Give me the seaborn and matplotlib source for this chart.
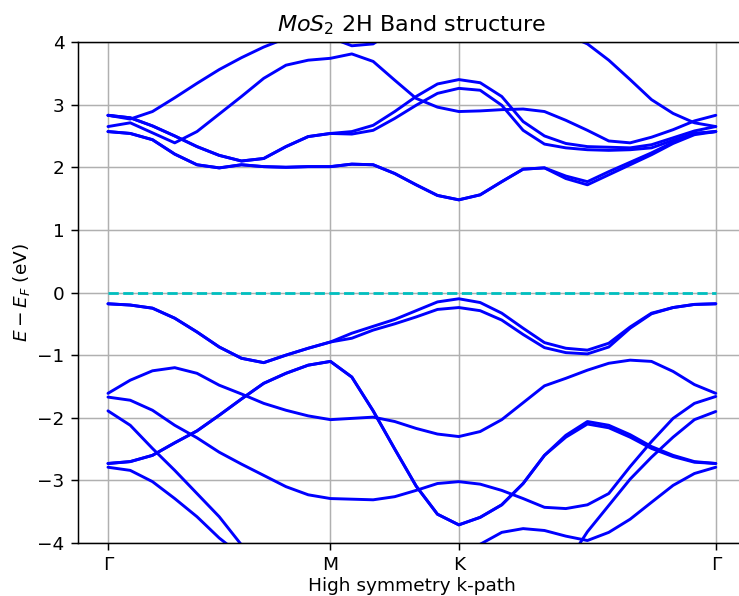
import numpy as np
import pandas as pd
import matplotlib
matplotlib.use("Agg")
import matplotlib.pyplot as plt
import seaborn as sns

# k-path sample positions along Gamma - M - K - Gamma
k_path = [0.0, 0.1, 0.2, 0.3, 0.4, 0.5, 0.6, 0.7, 0.8, 0.9, 1.0,
          1.096, 1.192, 1.289, 1.385, 1.481, 1.577,
          1.673, 1.770, 1.866, 1.962, 2.058, 2.155, 2.251, 2.347, 2.443, 2.540, 2.636, 2.732]
tick_pos = [0.0, 1.0, 1.577, 2.732]
tick_labels = ["Γ", "M", "K", "Γ"]

# conduction bands (eV, relative to E_F)
cb_d_lo = [2.57, 2.54, 2.44, 2.21, 2.04, 1.99, 2.04, 2.01, 2.00, 2.01, 2.01,
           2.05, 2.04, 1.90, 1.72, 1.55, 1.48,
           1.56, 1.77, 1.97, 1.99, 1.82, 1.72, 1.88, 2.04, 2.20, 2.38, 2.52, 2.57]
cb_d_hi = [2.57, 2.54, 2.44, 2.21, 2.04, 1.99, 2.04, 2.01, 2.00, 2.01, 2.01,
           2.05, 2.04, 1.90, 1.72, 1.55, 1.48,
           1.56, 1.77, 1.97, 1.99, 1.86, 1.77, 1.93, 2.08, 2.23, 2.40, 2.54, 2.57]
cb_a = [2.83, 2.77, 2.89, 3.11, 3.34, 3.56, 3.75, 3.92, 4.06, 4.12, 4.07,
        3.94, 3.97, 4.20, 4.40, 4.50, 4.50,
        4.50, 4.50, 4.50, 4.50, 4.50, 4.50, 4.50, 4.50, 4.50, 4.50, 4.50, 4.50]
cb_b = [2.65, 2.71, 2.55, 2.39, 2.57, 2.85, 3.13, 3.42, 3.63, 3.71, 3.74,
        3.81, 3.69, 3.39, 3.10, 2.96, 2.89,
        2.90, 2.92, 2.93, 2.89, 2.75, 2.59, 2.42, 2.39, 2.48, 2.60, 2.74, 2.83]
cb_c_lo = [2.83, 2.79, 2.66, 2.50, 2.33, 2.19, 2.10, 2.14, 2.33, 2.49, 2.54,
           2.53, 2.59, 2.78, 2.99, 3.18, 3.26,
           3.23, 2.99, 2.59, 2.37, 2.31, 2.28, 2.27, 2.28, 2.31, 2.43, 2.54, 2.57]
cb_c_hi = [2.83, 2.79, 2.66, 2.50, 2.33, 2.19, 2.10, 2.14, 2.33, 2.49, 2.54,
           2.57, 2.67, 2.89, 3.13, 3.33, 3.40,
           3.35, 3.13, 2.73, 2.50, 2.38, 2.33, 2.32, 2.31, 2.36, 2.47, 2.58, 2.65]
cb_t = [4.50, 4.50, 4.50, 4.50, 4.50, 4.50, 4.50, 4.50, 4.50, 4.50, 4.50,
        4.50, 4.50, 4.50, 4.50, 4.50, 4.50,
        4.50, 4.50, 4.50, 4.40, 4.12, 3.97, 3.71, 3.40, 3.08, 2.86, 2.71, 2.65]

# valence bands
vb1_hi = [-0.18, -0.20, -0.25, -0.41, -0.63, -0.87, -1.05, -1.12, -1.00, -0.89, -0.79,
          -0.65, -0.54, -0.43, -0.29, -0.15, -0.10,
          -0.16, -0.33, -0.57, -0.80, -0.89, -0.92, -0.81, -0.55, -0.33, -0.24, -0.19, -0.18]
vb1_lo = [-0.18, -0.20, -0.25, -0.41, -0.63, -0.87, -1.05, -1.12, -1.00, -0.89, -0.79,
          -0.73, -0.60, -0.50, -0.39, -0.27, -0.24,
          -0.29, -0.44, -0.67, -0.88, -0.96, -0.98, -0.87, -0.57, -0.34, -0.24, -0.19, -0.18]
vb_e1 = [-1.61, -1.40, -1.25, -1.20, -1.29, -1.48, -1.62, -1.77, -1.88, -1.97, -2.03,
         -2.01, -1.99, -2.06, -2.17, -2.26, -2.30,
         -2.22, -2.03, -1.76, -1.49, -1.37, -1.24, -1.13, -1.08, -1.10, -1.26, -1.47, -1.61]
vb_e2 = [-1.67, -1.72, -1.88, -2.12, -2.32, -2.55, -2.74, -2.92, -3.10, -3.23, -3.29,
         -3.30, -3.31, -3.26, -3.16, -3.05, -3.02,
         -3.06, -3.16, -3.29, -3.43, -3.45, -3.39, -3.21, -2.78, -2.38, -2.01, -1.77, -1.66]
vb_e3 = [-1.89, -2.12, -2.49, -2.84, -3.21, -3.58, -4.03, -4.30, -4.50, -4.50, -4.50,
         -4.50, -4.50, -4.50, -4.50, -4.50, -4.50,
         -4.50, -4.50, -4.50, -4.50, -4.50, -4.50, -4.50, -4.50, -4.50, -4.50, -4.50, -4.50]
vb_e4a = [-2.73, -2.70, -2.60, -2.40, -2.21, -1.96, -1.70, -1.45, -1.29, -1.16, -1.10,
          -1.35, -1.89, -2.50, -3.09, -3.54, -3.71,
          -3.59, -3.39, -3.05, -2.60, -2.28, -2.06, -2.12, -2.27, -2.46, -2.60, -2.70, -2.73]
vb_e4b = [-2.73, -2.70, -2.60, -2.40, -2.21, -1.96, -1.70, -1.45, -1.29, -1.16, -1.10,
          -1.35, -1.89, -2.50, -3.09, -3.54, -3.71,
          -3.59, -3.39, -3.05, -2.60, -2.31, -2.10, -2.16, -2.31, -2.49, -2.62, -2.71, -2.73]
vb_e5 = [-2.79, -2.84, -3.02, -3.29, -3.58, -3.92, -4.20, -4.50, -4.50, -4.50, -4.50,
         -4.50, -4.50, -4.50, -4.50, -4.50, -4.50,
         -4.50, -4.50, -4.50, -4.50, -4.50, -4.50, -4.50, -4.50, -4.50, -4.50, -4.50, -4.50]
vb_l3 = [-4.50, -4.50, -4.50, -4.50, -4.50, -4.50, -4.50, -4.50, -4.50, -4.50, -4.50,
         -4.50, -4.50, -4.50, -4.50, -4.50, -4.50,
         -4.50, -4.50, -4.50, -4.50, -4.35, -3.82, -3.40, -2.98, -2.63, -2.31, -2.03, -1.90]
vb_l4 = [-4.60, -4.60, -4.60, -4.60, -4.60, -4.60, -4.60, -4.60, -4.60, -4.60, -4.60,
         -4.60, -4.60, -4.60, -4.60, -4.60, -4.60,
         -4.02, -3.83, -3.77, -3.80, -3.89, -3.96, -3.83, -3.62, -3.35, -3.08, -2.89, -2.79]

bands = {
    "cb_d_lo": cb_d_lo, "cb_d_hi": cb_d_hi, "cb_a": cb_a, "cb_b": cb_b,
    "cb_c_lo": cb_c_lo, "cb_c_hi": cb_c_hi, "cb_t": cb_t,
    "vb1_hi": vb1_hi, "vb1_lo": vb1_lo, "vb_e1": vb_e1, "vb_e2": vb_e2,
    "vb_e3": vb_e3, "vb_e4a": vb_e4a, "vb_e4b": vb_e4b, "vb_e5": vb_e5,
    "vb_l3": vb_l3, "vb_l4": vb_l4,
}
df = pd.concat(
    [pd.DataFrame({"k": k_path, "E": vals, "band": name}) for name, vals in bands.items()],
    ignore_index=True,
)

sns.set_style("ticks")
plt.rcParams.update({
    "font.family": ["DejaVu Sans"],
    "font.size": 13.3,
    "axes.titlesize": 16,
    "axes.labelsize": 13.3,
    "xtick.labelsize": 13.3,
    "ytick.labelsize": 13.3,
    "xtick.major.size": 4.7,
    "ytick.major.size": 4.7,
    "xtick.major.width": 1.07,
    "ytick.major.width": 1.07,
    "xtick.major.pad": 4.7,
    "ytick.major.pad": 4.7,
    "axes.linewidth": 1.07,
    "axes.edgecolor": "black",
    "text.color": "black",
    "axes.labelcolor": "black",
    "xtick.color": "black",
    "ytick.color": "black",
    "lines.solid_joinstyle": "round",
    "lines.solid_capstyle": "round",
})

fig = plt.figure(figsize=(7.39, 5.96), dpi=100)
ax = fig.add_axes([0.105, 0.0889, 0.9047, 0.8406])

sns.lineplot(data=df, x="k", y="E", units="band", estimator=None, sort=False,
             color="blue", lw=2.1, ax=ax, legend=False)

# Fermi level
ax.plot([k_path[0], k_path[-1]], [0, 0], color="c", ls="--", lw=2.0)

L = k_path[-1]
ax.set_xlim(-0.05 * L, 1.05 * L)
ax.set_ylim(-4, 4)
ax.set_xticks(tick_pos)
ax.set_xticklabels(tick_labels)
ax.set_yticks(range(-4, 5))
ax.grid(True, color="#b0b0b0", lw=1.07)
ax.set_axisbelow(True)
ax.set_xlabel("High symmetry k-path", labelpad=2)
ax.set_ylabel("$E - E_F$ (eV)")
ax.set_title("$MoS_2$ 2H Band structure", pad=8)

fig.savefig("out.png", dpi=100)
